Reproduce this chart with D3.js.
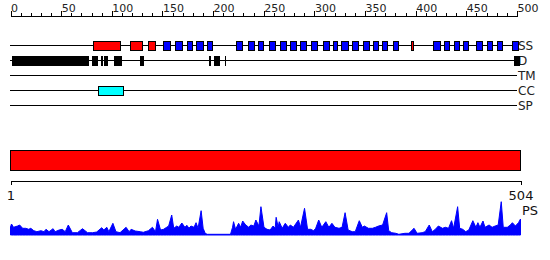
<!DOCTYPE html>
<html>
<head>
<meta charset="utf-8">
<script src="https://cdn.jsdelivr.net/npm/d3@7"></script>
<style>
  body { margin: 0; background: #fff; }
  text { font-family: "DejaVu Sans", sans-serif; fill: #111; }
</style>
</head>
<body>
<div id="chart"></div>
<script>
// Ruler ticks
const rulerTicks = d3.range(0, 501, 10);
const rulerLabels = d3.range(0, 501, 50);

// Track names, top to bottom
const tracks = ["SS", "D", "TM", "CC", "SP"];

// Secondary structure: helix (red) and strand (blue) residue ranges
const ssHelix = [[81, 108], [118, 130], [136, 143], [395, 397]];
const ssStrand = [
  [151, 158], [162, 169], [174, 179], [183, 190], [194, 199],
  [223, 229], [234, 240], [244, 249], [255, 261], [266, 272],
  [276, 282], [286, 292], [297, 303], [308, 314], [318, 322],
  [326, 333], [337, 343], [348, 354], [358, 363], [367, 372],
  [378, 383], [417, 424], [428, 433], [438, 443], [447, 452],
  [460, 466], [470, 475], [480, 485], [495, 501]
];

// Disorder ranges
const disorder = [
  [0, 54], [55, 77], [79, 85], [88, 90], [91, 95], [101, 109],
  [127, 131], [195, 197], [200, 206], [211, 212], [496, 502]
];

// Coiled coil ranges
const coiled = [[86, 111]];

// Sequence length
const seqStart = 1, seqEnd = 504;

// PS profile: residue and score
const psRes = [1, 2, 4, 8, 10, 13, 16, 19, 21, 24, 27, 31, 34, 36, 39, 43, 45, 49, 52, 55,
  58, 62, 67, 72, 77, 82, 86, 91, 93, 96, 98, 102, 105, 109, 115, 118, 120, 124, 129, 132,
  137, 141, 144, 146, 149, 152, 155, 157, 160, 162, 165, 167, 170, 173, 175, 177, 179, 182, 184, 186,
  189, 191, 193, 195, 218, 220, 221, 223, 226, 228, 230, 233, 236, 238, 241, 243, 246, 248, 251, 254,
  257, 260, 262, 263, 265, 266, 269, 272, 275, 277, 280, 285, 287, 291, 294, 297, 300, 302, 305, 308,
  312, 315, 318, 321, 325, 328, 331, 334, 338, 341, 345, 348, 350, 354, 358, 361, 364, 368, 372, 374,
  377, 381, 384, 390, 394, 399, 402, 407, 410, 414, 417, 420, 423, 427, 430, 433, 436, 438, 442, 444,
  447, 450, 453, 457, 460, 462, 464, 467, 469, 473, 476, 479, 482, 485, 487, 491, 494, 496, 499, 502, 504];
const psVal = [8, 11, 7.7, 9, 10, 6.7, 6.7, 5.7, 6.7, 4.3, 3.3, 4.3, 3.3, 5.7, 3.3, 6.3, 3.3, 5, 5.7, 3.3,
  10, 2.3, 2.3, 6.3, 2.3, 2.3, 3, 7.3, 5, 7.7, 3.3, 11.7, 3.3, 2.3, 7.7, 3.3, 5.7, 4, 3.3, 2.7,
  4.3, 7.7, 3.3, 15.7, 5, 5.7, 7.7, 9, 20, 6.7, 9, 7.7, 12, 7.7, 9.7, 6.7, 9, 7.7, 12.3, 6.7,
  24.3, 6.7, 1.7, 0.7, 0.7, 7.7, 13.3, 5.7, 11.7, 7.7, 14, 10, 7.7, 10, 9, 15, 9, 28.3, 7.7, 5.7,
  5, 9, 6.7, 17.7, 7.7, 13.3, 6.7, 11.7, 7.7, 10, 7.7, 15, 7.7, 26.7, 5.7, 5.7, 4.3, 6.7, 15, 7.7,
  13.3, 7.7, 11.7, 7.7, 6.7, 7.7, 22.3, 5, 3.3, 3.3, 14.3, 7.7, 9, 6.7, 6.7, 7.7, 9, 10, 22.3, 4.3,
  2.3, 1.7, 0.7, 1.7, 1.7, 6.7, 1.7, 2.3, 3.3, 10, 3.3, 5.7, 9, 6.7, 7.7, 6.7, 14.3, 6.7, 28.3, 6.7,
  5.7, 3.3, 5, 14.3, 7.7, 12.3, 7.7, 14, 7.7, 10, 7.7, 9, 10, 33.3, 7.7, 7.7, 10, 12.3, 9, 12.3, 16];

const width = 550, height = 260;

const svg = d3.select("#chart")
  .append("svg")
  .attr("width", width)
  .attr("height", height)
  .attr("shape-rendering", "crispEdges");

// Scales: ruler/tracks in residue units, bottom panel over the full sequence
const xr = d3.scaleLinear().domain([0, 500]).range([10.5, 517]);
const xb = d3.scaleLinear().domain([seqStart, seqEnd]).range([10.5, 520.5]);

// Ruler on top
const ruler = svg.append("g")
  .attr("transform", "translate(0,15.5)")
  .call(d3.axisTop(xr)
    .tickValues(rulerTicks)
    .tickSize(3)
    .tickSizeOuter(0)
    .tickFormat(d => rulerLabels.includes(d) ? d : ""));
ruler.select(".domain").attr("stroke", "#000");
ruler.selectAll(".tick line").attr("stroke", "#000")
  .attr("y2", d => rulerLabels.includes(d) ? -5 : -3);
ruler.selectAll(".tick text")
  .attr("text-anchor", "start")
  .attr("y", -4)
  .attr("dy", 0)
  .style("font-size", "11px")
  .style("fill", "#222");

// Track baselines and labels
const trackY = d3.scalePoint().domain(tracks).range([45, 105]);

svg.selectAll(".track-line")
  .data(tracks)
  .enter()
  .append("line")
  .attr("class", "track-line")
  .attr("x1", xr(0) - 0.5)
  .attr("x2", xr(500))
  .attr("y1", d => trackY(d) + 0.5)
  .attr("y2", d => trackY(d) + 0.5)
  .attr("stroke", "#000");

svg.selectAll(".track-label")
  .data(tracks)
  .enter()
  .append("text")
  .attr("class", "track-label")
  .attr("x", xr(500) + 1)
  .attr("y", d => trackY(d) + 5)
  .style("font-size", "12px")
  .style("fill", "#222")
  .text(d => d);

// Boxes on a track
function drawBoxes(data, track, fill, stroke, h) {
  svg.append("g")
    .selectAll("rect")
    .data(data)
    .enter()
    .append("rect")
    .attr("x", d => Math.round(xr(d[0])) + 0.5)
    .attr("y", trackY(track) - h / 2 + 0.5)
    .attr("width", d => Math.max(1, Math.round(xr(d[1]) - xr(d[0]))))
    .attr("height", h)
    .attr("fill", fill)
    .attr("stroke", stroke);
}

drawBoxes(ssHelix, "SS", "#ff0000", "#000", 9);
drawBoxes(ssStrand, "SS", "#0000ff", "#000", 9);
drawBoxes(disorder, "D", "#000", "none", 10);
drawBoxes(coiled, "CC", "#00ffff", "#000", 9);

// Bottom panel: full-length bar
svg.append("rect")
  .attr("x", xb(seqStart))
  .attr("y", 150.5)
  .attr("width", xb(seqEnd) - xb(seqStart))
  .attr("height", 20)
  .attr("fill", "#ff0000")
  .attr("stroke", "#000");

const bottomAxis = svg.append("g")
  .attr("transform", "translate(0,180.5)")
  .call(d3.axisBottom(xb)
    .tickValues([seqStart, seqEnd])
    .tickSize(4)
    .tickSizeOuter(0)
    .tickPadding(6));
bottomAxis.select(".domain").attr("stroke", "#000");
bottomAxis.selectAll(".tick line").attr("stroke", "#000");
bottomAxis.selectAll(".tick text")
  .style("font-size", "13px")
  .style("fill", "#111");

// PS profile
const yPs = d3.scaleLinear().domain([0, 35]).range([235, 200]);

const area = d3.area()
  .x((d, i) => xb(psRes[i]))
  .y0(yPs(0))
  .y1(d => yPs(d));

svg.append("path")
  .datum(psVal)
  .attr("d", area)
  .attr("fill", "#0000ff")
  .attr("stroke", "#0000ff")
  .attr("stroke-width", 1)
  .attr("shape-rendering", "auto");

svg.append("text")
  .attr("x", 522)
  .attr("y", 215)
  .style("font-size", "13px")
  .text("PS");
</script>
</body>
</html>
